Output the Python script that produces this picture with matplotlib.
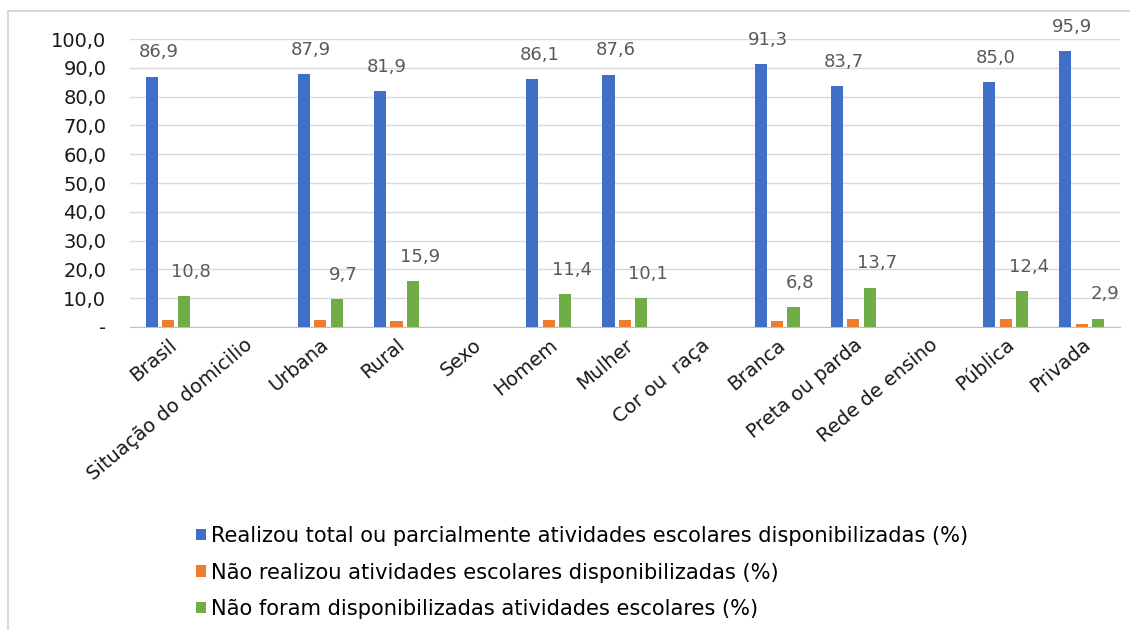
import matplotlib
matplotlib.use("Agg")
import matplotlib.pyplot as plt
from matplotlib.patches import Rectangle, Patch
import numpy as np

categories = ["Brasil", "Situação do domicilio", "Urbana", "Rural", "Sexo",
              "Homem", "Mulher", "Cor ou  raça", "Branca", "Preta ou parda",
              "Rede de ensino", "Pública", "Privada"]
realizou = [86.9, None, 87.9, 81.9, None, 86.1, 87.6, None, 91.3, 83.7, None, 85.0, 95.9]
nao_realizou = [2.3, None, 2.4, 2.2, None, 2.5, 2.3, None, 1.9, 2.6, None, 2.6, 1.2]
nao_disponib = [10.8, None, 9.7, 15.9, None, 11.4, 10.1, None, 6.8, 13.7, None, 12.4, 2.9]
series_names = ["Realizou total ou parcialmente atividades escolares disponibilizadas (%)",
                "Não realizou atividades escolares disponibilizadas (%)",
                "Não foram disponibilizadas atividades escolares (%)"]
colors = ["#3F6FC6", "#ED7D31", "#70AD47"]
yticks = [0, 10, 20, 30, 40, 50, 60, 70, 80, 90, 100]
ytick_labels = ["-", "10,0", "20,0", "30,0", "40,0", "50,0", "60,0", "70,0",
                "80,0", "90,0", "100,0"]

plt.rcParams["font.family"] = ["DejaVu Sans"]

fig = plt.figure(figsize=(11.3, 6.3), dpi=100)
ax = fig.add_axes([0.115, 0.481, 0.876, 0.457])

x = np.arange(len(categories))
width = 0.16
step = 0.215
label_color = "#595959"

for i, (vals, col) in enumerate(zip([realizou, nao_realizou, nao_disponib], colors)):
    xs = [xi + (i - 1) * step for xi, v in zip(x, vals) if v is not None]
    vs = [v for v in vals if v is not None]
    ax.bar(xs, vs, width=width, color=col, zorder=3)
    if i != 1:
        for xb, v in zip(xs, vs):
            ax.annotate(f"{v:.1f}".replace(".", ","), (xb, v), xytext=(5, 11),
                        textcoords="offset points", ha="center", va="bottom",
                        fontsize=13, color=label_color, annotation_clip=False)

ax.set_xlim(-0.5, len(categories) - 0.5)
ax.set_ylim(0, 100)
ax.set_yticks(yticks)
ax.set_yticklabels(ytick_labels, fontsize=14, color="#1a1a1a")
ax.set_xticks(x)
ax.set_xticklabels(categories, rotation=40, ha="right", rotation_mode="anchor",
                   fontsize=14, color="#1a1a1a")
ax.tick_params(axis="y", length=0, pad=17)
ax.tick_params(axis="x", length=0, pad=6)
ax.grid(axis="y", color="#d9d9d9", linewidth=1, zorder=0)
for s in ["top", "right", "left"]:
    ax.spines[s].set_visible(False)
ax.spines["bottom"].set_color("#bfbfbf")

handles = [Patch(facecolor=c, edgecolor="none") for c in colors]
fig.legend(handles, series_names, loc="upper left", bbox_to_anchor=(0.166, 0.178),
           frameon=False, fontsize=15.1, handlelength=0.5, handleheight=0.45,
           handletextpad=0.2, labelspacing=0.78, borderaxespad=0)

fig.patches.append(Rectangle((0.007, -0.01), 1.0, 0.992, transform=fig.transFigure,
                             fill=False, edgecolor="#d0d0d0", linewidth=1.2))

fig.savefig("out.png", dpi=100, facecolor="white")
